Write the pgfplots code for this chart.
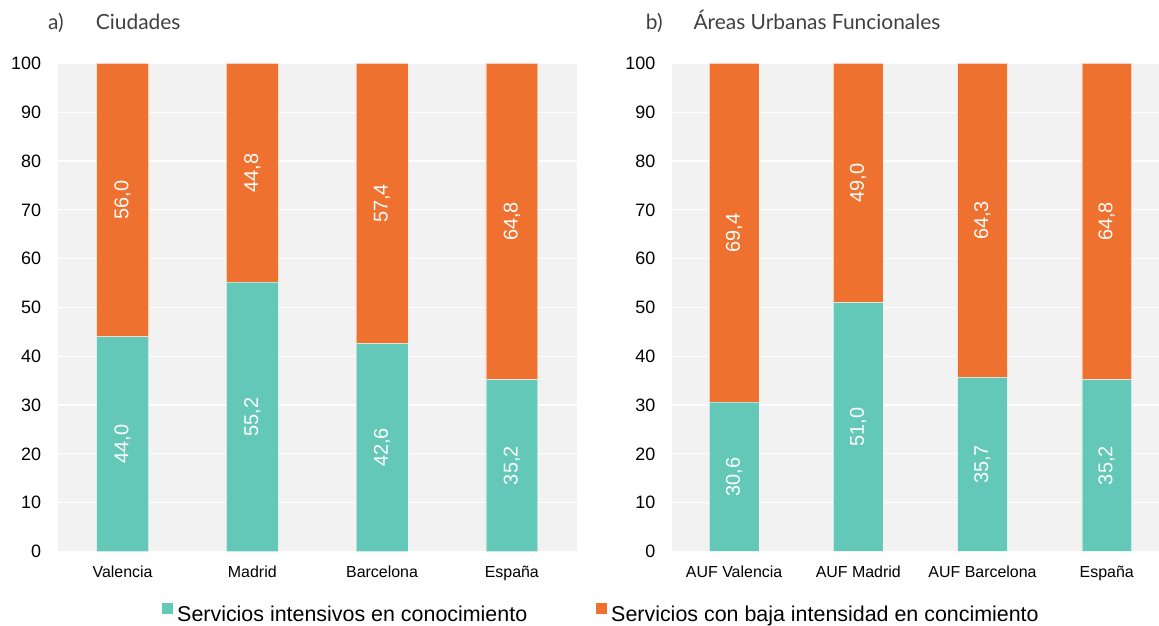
\documentclass[border=0pt]{standalone}
\usepackage{fontspec}
\setmainfont{Liberation Sans}
\newfontfamily\latofont{Lato}
\usepackage{pgfplots}
\usepackage{pgfplotstable}
\pgfplotsset{compat=1.18}
\definecolor{cteal}{RGB}{100,200,184}
\definecolor{corange}{RGB}{239,113,48}
\definecolor{cbg}{RGB}{242,242,242}
\definecolor{ctitle}{RGB}{64,64,64}

\pgfplotstableread{
x t o
0 44.0 56.0
1 55.2 44.8
2 42.6 57.4
3 35.2 64.8
}\dataA
\pgfplotstableread{
x t o
0 30.6 69.4
1 51.0 49.0
2 35.7 64.3
3 35.2 64.8
}\dataB

\pgfplotsset{
  panel/.style={
    scale only axis, height=488bp, ymin=0, ymax=100, ytick={0,10,...,100},
    ybar stacked, bar width=0.4, xmin=-0.5, xtick={0,1,2,3},
    axis background/.style={fill=cbg},
    axis line style={draw=none},
    major tick length=0pt,
    ymajorgrids, grid style={white, line width=1.2bp},
    /pgf/number format/assume math mode=true,
    yticklabel style={font=\fontsize{18}{20}\selectfont, anchor=east, inner sep=0pt, xshift=-16.5bp, text=black},
    xticklabel style={font=\fontsize{16}{18}\selectfont, anchor=base, inner sep=0pt, yshift=-26bp, text=black},
  },
  labels/.style={
    scale only axis, height=488bp, ymin=0, ymax=100, xmin=-0.5, hide axis,
  },
  seg/.style={fill=#1, draw=white, draw opacity=0.5, line width=0.6bp,
    legend image code/.code={\fill[#1, draw=none] (0bp,0bp) rectangle (11bp,11bp);},
  },
  lab/.style={draw=none, mark=none,
    nodes near coords={\pgfmathprintnumber[fixed,fixed zerofill,precision=1,use comma,assume math mode=true]{\pgfplotspointmeta}},
    point meta=explicit,
    every node near coord/.append style={rotate=90, anchor=center, text=white, inner sep=0pt, font=\fontsize{20}{22}\selectfont},
  },
}

\begin{document}
\begin{tikzpicture}
\useasboundingbox (0,0) rectangle (1159bp,626bp);
\begin{axis}[panel, at={(57.7bp,74.5bp)}, anchor=south west, width=519bp, xmax=3.5,
  xticklabels={Valencia,Madrid,Barcelona,España},
  legend columns=2,
  legend style={at={(0.201,-0.126)}, anchor=west, draw=none, fill=none, inner sep=0pt,
    nodes={inner sep=0pt}, font=\fontsize{21.5}{24}\selectfont,
    /tikz/every even column/.append style={column sep=69bp},
    /tikz/every odd column/.append style={column sep=4bp}},
]
\addplot[seg=cteal] table[x=x, y=t] {\dataA};
\addlegendentry{Servicios intensivos en conocimiento}
\addplot[seg=corange] table[x=x, y=o] {\dataA};
\addlegendentry{Servicios con baja intensidad en concimiento}
\end{axis}
\begin{axis}[labels, at={(57.7bp,74.5bp)}, anchor=south west, width=519bp, xmax=3.5]
\addplot[lab] table[x=x, y expr=0.5*\thisrow{t}, meta=t] {\dataA};
\addplot[lab] table[x=x, y expr=\thisrow{t}+0.5*\thisrow{o}, meta=o] {\dataA};
\end{axis}
\begin{axis}[panel, at={(672bp,74.5bp)}, anchor=south west, width=487bp, xmax=3.421,
  xticklabels={AUF Valencia,AUF Madrid,AUF Barcelona,España},
]
\addplot[seg=cteal] table[x=x, y=t] {\dataB};
\addplot[seg=corange] table[x=x, y=o] {\dataB};
\end{axis}
\begin{axis}[labels, at={(672bp,74.5bp)}, anchor=south west, width=487bp, xmax=3.421]
\addplot[lab] table[x=x, y expr=0.5*\thisrow{t}, meta=t] {\dataB};
\addplot[lab] table[x=x, y expr=\thisrow{t}+0.5*\thisrow{o}, meta=o] {\dataB};
\end{axis}
\node[anchor=base west, inner sep=0pt, font=\latofont\fontsize{21}{24}\selectfont, text=ctitle] at (48bp,596bp) {a)};
\node[anchor=base west, inner sep=0pt, font=\latofont\fontsize{21}{24}\selectfont, text=ctitle] at (95.7bp,596bp) {Ciudades};
\node[anchor=base west, inner sep=0pt, font=\latofont\fontsize{21}{24}\selectfont, text=ctitle] at (645.7bp,596bp) {b)};
\node[anchor=base west, inner sep=0pt, font=\latofont\fontsize{21}{24}\selectfont, text=ctitle] at (693.3bp,596bp) {Áreas Urbanas Funcionales};
\end{tikzpicture}
\end{document}
